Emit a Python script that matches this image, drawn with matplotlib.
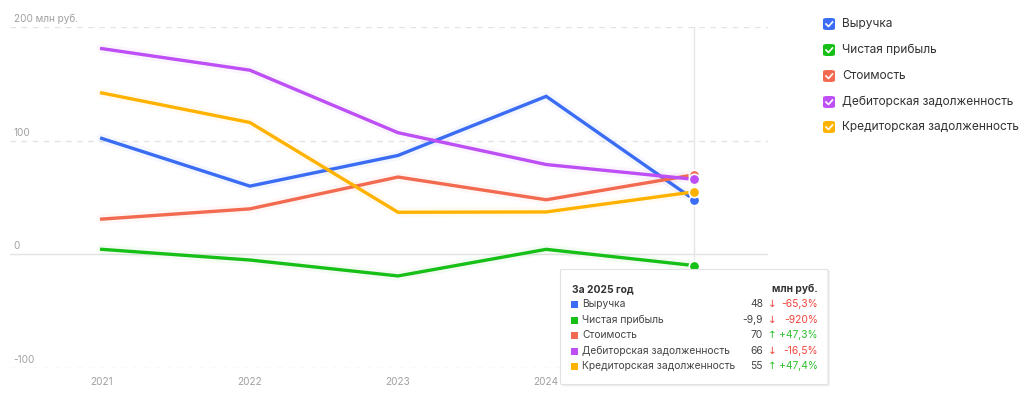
import matplotlib
matplotlib.use("Agg")
import matplotlib.pyplot as plt
from matplotlib.patches import FancyBboxPatch
from matplotlib.lines import Line2D

plt.rcParams['font.family'] = ['Inter', 'DejaVu Sans']

years = [2021, 2022, 2023, 2024, 2025]
series_names = ["Выручка", "Чистая прибыль", "Стоимость",
                "Дебиторская задолженность", "Кредиторская задолженность"]
revenue = [102, 60, 87, 139, 48]
net_profit = [4.4, -5, -19, 4.4, -9.9]
cost = [31, 40, 68, 48, 70]
receivables = [181, 162, 107, 79, 66]
payables = [142, 116, 37, 37.3, 55]
colors = ["#3a6cf4", "#17c017", "#f26a4f", "#bd4ff4", "#ffb300"]

y_ticks = [-100, 0, 100, 200]
y_tick_labels = ["-100", "0", "100", "200 млн руб."]

tip_title = "За 2025 год"
tip_unit = "млн руб."
tip_values = ["48", "-9,9", "70", "66", "55"]
tip_arrows = ["↓", "↓", "↑", "↓", "↑"]
tip_changes = ["-65,3%", "-920%", "+47,3%", "-16,5%", "+47,4%"]

W, H = 1024, 401
fig = plt.figure(figsize=(W / 100, H / 100), dpi=100)
fig.patch.set_facecolor("white")

def fx(px):
    return px / W

def fy(py):
    return 1 - py / H

ax = fig.add_axes([fx(10), fy(368), fx(768) - fx(10), fy(27) - fy(368)])
ax.set_xlim(2020.381, 2025.497)
ax.set_ylim(-100, 200)
ax.axis("off")

# gridlines and y labels
for t, lab in zip(y_ticks, y_tick_labels):
    if t == 0:
        ax.axhline(t, color="#e3e3e3", lw=1.0, zorder=0)
    else:
        ax.axhline(t, color="#e3e3e3", lw=1.0, ls=(0, (4, 4)), zorder=0)
    ax.text(2020.405, t + 2.5, lab, fontsize=7.2, color="#a0a0a0", ha="left", va="bottom")

# hover vertical line
ax.axvline(years[-1], color="#e6e6e6", lw=1.0, zorder=0)

data = [revenue, net_profit, cost, receivables, payables]
for i in range(len(data)):
    ax.plot(years, data[i], color=colors[i], lw=7, alpha=0.05, solid_capstyle="round", zorder=1)
    ax.plot(years, data[i], color=colors[i], lw=2.4, solid_joinstyle="miter", zorder=2)
    ax.plot([years[-1]], [data[i][-1]], "o", color=colors[i], ms=7.5, mec="white", mew=1.2, zorder=3)

for yr in years:
    ax.text(yr, -100 - 12, str(yr), fontsize=7.2, color="#a0a0a0", ha="center", va="center", zorder=1)

# legend on the right
leg_y = [24, 50, 76, 102, 127]
for name, c, yy in zip(series_names, colors, leg_y):
    box = FancyBboxPatch((fx(823), fy(yy + 6)), fx(12), fy(0) - fy(12),
                         boxstyle="round,pad=0,rounding_size=0.004",
                         transform=fig.transFigure, facecolor=c, edgecolor="none")
    fig.patches.append(box)
    fig.lines.append(Line2D([fx(826), fx(828.5), fx(832.5)], [fy(yy), fy(yy + 2.5), fy(yy - 2)],
                            transform=fig.transFigure, color="white", lw=1.2))
    fig.text(fx(842), fy(yy), name, fontsize=8.6, color="#333333", ha="left", va="center")

# tooltip
shadow = FancyBboxPatch((fx(562), fy(386.5)), fx(829) - fx(561), fy(270) - fy(386),
                        boxstyle="round,pad=0,rounding_size=0.002",
                        transform=fig.transFigure, facecolor="#000000", alpha=0.06,
                        edgecolor="none", zorder=9)
fig.patches.append(shadow)
tip = FancyBboxPatch((fx(560.5), fy(384.5)), fx(828) - fx(560.5), fy(269.5) - fy(384.5),
                     boxstyle="round,pad=0,rounding_size=0.002",
                     transform=fig.transFigure, facecolor="white", edgecolor="#e2e2e2",
                     lw=0.8, zorder=10)
fig.patches.append(tip)
fig.text(fx(572), fy(289), tip_title, fontsize=7.4, fontweight="bold", color="#333333",
         ha="left", va="center", zorder=11)
fig.text(fx(818), fy(289), tip_unit, fontsize=7.4, fontweight="bold", color="#333333",
         ha="right", va="center", zorder=11)
row_y = [304, 320, 335, 351, 366]
for name, c, v, a, ch, yy in zip(series_names, colors, tip_values, tip_arrows, tip_changes, row_y):
    sq = FancyBboxPatch((fx(570.5), fy(yy + 3.5)), fx(7), fy(0) - fy(7),
                        boxstyle="square,pad=0", transform=fig.transFigure,
                        facecolor=c, edgecolor="none", zorder=11)
    fig.patches.append(sq)
    fig.text(fx(582), fy(yy), name, fontsize=7.4, color="#444444", ha="left", va="center", zorder=11)
    fig.text(fx(763), fy(yy), v, fontsize=7.4, color="#444444", ha="right", va="center", zorder=11)
    ac = "#f0443a" if a == "↓" else "#2cc22c"
    fig.text(fx(772), fy(yy), a, fontsize=7.5, color=ac, ha="center", va="center",
             family=["DejaVu Sans"], zorder=11)
    fig.text(fx(818), fy(yy), ch, fontsize=7.4, color=ac, ha="right", va="center", zorder=11)

fig.savefig("out.png", dpi=100, facecolor="white")
